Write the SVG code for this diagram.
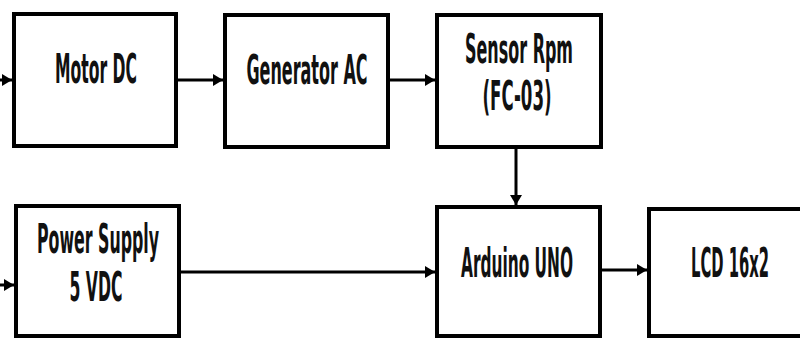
<svg xmlns="http://www.w3.org/2000/svg" width="800" height="338" viewBox="0 0 800 338">
<defs>
<marker id="arr" markerUnits="userSpaceOnUse" markerWidth="12" markerHeight="12" refX="10" refY="6" orient="auto">
<path d="M0,0 L10,6 L0,12 Z" fill="#000"/>
</marker>
<style>
.box{fill:#fff;stroke:#000;stroke-width:4}
.lbl{font-family:"Liberation Sans Narrow","DejaVu Sans Condensed","Liberation Sans",sans-serif;font-weight:bold;font-size:40px;fill:#111;text-anchor:middle}
.con{stroke:#000;stroke-width:3;fill:none}
</style>
</defs>
<rect width="800" height="338" fill="#fff"/>
<g id="motor-dc">
<rect class="box" x="14" y="14" width="162" height="132"/>
<text class="lbl" x="96" y="83" textLength="82" lengthAdjust="spacingAndGlyphs">Motor DC</text>
</g>
<g id="generator-ac">
<rect class="box" x="225" y="15" width="163" height="132"/>
<text class="lbl" x="307" y="84" textLength="121" lengthAdjust="spacingAndGlyphs">Generator AC</text>
</g>
<g id="sensor-rpm">
<rect class="box" x="437" y="15" width="164" height="132"/>
<text class="lbl" x="519" y="63" textLength="108" lengthAdjust="spacingAndGlyphs">Sensor Rpm</text>
<text class="lbl" x="517" y="110" textLength="69" lengthAdjust="spacingAndGlyphs">(FC-03)</text>
</g>
<g id="power-supply">
<rect class="box" x="16" y="206" width="163" height="130"/>
<text class="lbl" x="98" y="253" textLength="122" lengthAdjust="spacingAndGlyphs">Power Supply</text>
<text class="lbl" x="96" y="301" textLength="53" lengthAdjust="spacingAndGlyphs">5 VDC</text>
</g>
<g id="arduino-uno">
<rect class="box" x="437" y="207" width="163" height="129"/>
<text class="lbl" x="517" y="277" textLength="112" lengthAdjust="spacingAndGlyphs">Arduino UNO</text>
</g>
<g id="lcd">
<rect class="box" x="649" y="209" width="170" height="127"/>
<text class="lbl" x="730" y="277" textLength="78" lengthAdjust="spacingAndGlyphs">LCD 16x2</text>
</g>
<g id="connectors">
<line class="con" x1="0" y1="80" x2="12" y2="80" marker-end="url(#arr)"/>
<line class="con" x1="178" y1="80" x2="223" y2="80" marker-end="url(#arr)"/>
<line class="con" x1="390" y1="80" x2="435" y2="80" marker-end="url(#arr)"/>
<line class="con" x1="516" y1="149" x2="516" y2="205" marker-end="url(#arr)"/>
<line class="con" x1="181" y1="272" x2="435" y2="272" marker-end="url(#arr)"/>
<line class="con" x1="602" y1="270" x2="647" y2="270" marker-end="url(#arr)"/>
<line class="con" x1="0" y1="285" x2="14" y2="285" marker-end="url(#arr)"/>
</g>
</svg>
